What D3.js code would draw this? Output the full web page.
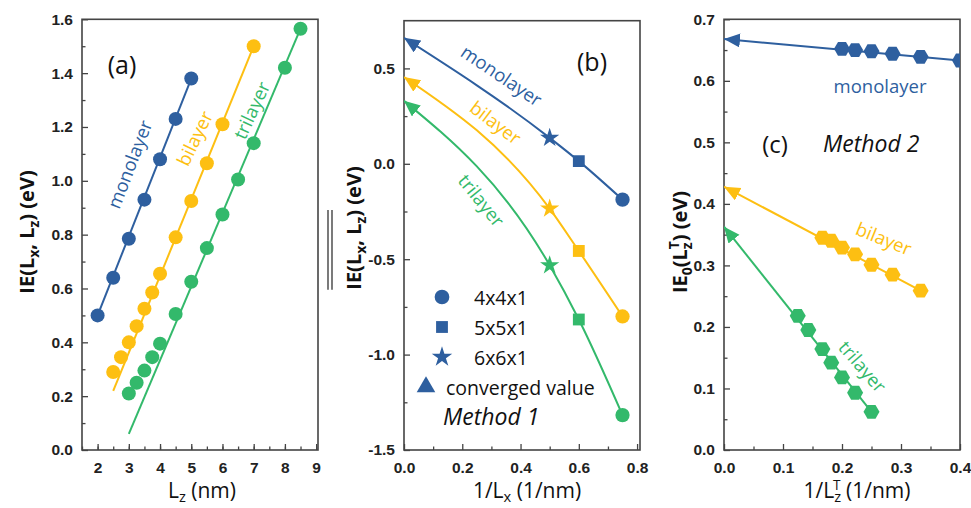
<!DOCTYPE html>
<html>
<head>
<meta charset="utf-8">
<script src="https://cdn.jsdelivr.net/npm/d3@7/dist/d3.min.js"></script>
<style>
  body { margin: 0; background: #fff; }
  svg { font-family: "Open Sans", "DejaVu Sans", sans-serif; }
  .tick text { font-weight: bold; font-size: 15.5px; fill: #222; }
  .tick line { stroke: #444; stroke-width: 1.3; }
</style>
</head>
<body>
<svg id="chart" width="971" height="508"></svg>
<script>
// colours of the three layer series
var BLUE = "#2e5f9f", GOLD = "#fdbf12", GREEN = "#33b96b";

// ---- panel (a): IE(Lx, Lz) vs Lz ----
var monoA_x = [2, 2.5, 3, 3.5, 4, 4.5, 5];
var monoA_y = [0.50, 0.64, 0.785, 0.93, 1.08, 1.23, 1.38];
var biA_x = [2.5, 2.75, 3, 3.25, 3.5, 3.75, 4, 4.5, 5, 5.5, 6, 7];
var biA_y = [0.29, 0.345, 0.40, 0.46, 0.525, 0.585, 0.655, 0.79, 0.925, 1.065, 1.21, 1.50];
var triA_x = [3, 3.25, 3.5, 3.75, 4, 4.5, 5, 5.5, 6, 6.5, 7, 8, 8.5];
var triA_y = [0.21, 0.25, 0.295, 0.345, 0.395, 0.505, 0.625, 0.75, 0.875, 1.005, 1.14, 1.42, 1.565];
// fitted lines (start, end) in data units
var monoA_fit = [[2, 0.50], [5, 1.38]];
var biA_fit = [[2.5, 0.22], [7, 1.50]];
var triA_fit = [[3, 0.06], [8.5, 1.565]];
var aXTicks = [2, 3, 4, 5, 6, 7, 8, 9];
var aYTicks = [0.0, 0.2, 0.4, 0.6, 0.8, 1.0, 1.2, 1.4, 1.6];

// ---- panel (b): method 1, vs 1/Lx ----
var bX = [0, 0.5, 0.6, 0.75];            // converged, 6x6x1, 5x5x1, 4x4x1
var monoB = [0.66, 0.136, 0.014, -0.188];
var biB = [0.455, -0.235, -0.457, -0.80];
var triB = [0.33, -0.532, -0.816, -1.317];
var bXTicks = [0.0, 0.2, 0.4, 0.6, 0.8];
var bYTicks = [-1.5, -1.0, -0.5, 0.0, 0.5];
var legendB = ["4x4x1", "5x5x1", "6x6x1", "converged value"];

// ---- panel (c): method 2, vs 1/Lz^T ----
var monoC_x = [0.2, 0.2222, 0.25, 0.2857, 0.3333, 0.4];
var monoC_y = [0.652, 0.650, 0.648, 0.644, 0.639, 0.633];
var biC_x = [0.1667, 0.1818, 0.2, 0.2222, 0.25, 0.2857, 0.3333];
var biC_y = [0.345, 0.340, 0.329, 0.318, 0.301, 0.285, 0.259];
var triC_x = [0.125, 0.1429, 0.1667, 0.1818, 0.2, 0.2222, 0.25];
var triC_y = [0.218, 0.195, 0.164, 0.142, 0.118, 0.093, 0.062];
var convC = [0.668, 0.428, 0.363];      // mono, bi, tri at 1/Lz^T = 0
var cXTicks = [0.0, 0.1, 0.2, 0.3, 0.4];
var cYTicks = [0.0, 0.1, 0.2, 0.3, 0.4, 0.5, 0.6, 0.7];

var svg = d3.select("#chart");
var defs = svg.append("defs");

function zip(xs, ys){
    return xs.map(function(x, i){ return [x, ys[i]]; });
}
function fmtHyphen(spec){
    var f = d3.format(spec);
    return function(d){ return f(d).replace("\u2212", "-"); };
}

// arrow heads pointing back to the converged value
[["mono", BLUE], ["bi", GOLD], ["tri", GREEN]].forEach(function(m){
    defs.append("marker")
        .attr("id", "arrow-" + m[0])
        .attr("markerUnits", "userSpaceOnUse")
        .attr("markerWidth", 17).attr("markerHeight", 15)
        .attr("refX", 16).attr("refY", 7)
        .attr("orient", "auto-start-reverse")
        .append("path")
        .attr("d", "M0,0 L16,7 L0,14 Z")
        .attr("fill", m[1]);
});

function makePanel(id, box, xDom, yDom, xTicks, yTicks, xMinor, yMinor, fmt){
    var x = d3.scaleLinear().domain(xDom).range([box.l, box.r]);
    var y = d3.scaleLinear().domain(yDom).range([box.b, box.t]);
    var g = svg.append("g").attr("class", "panel-" + id);

    defs.append("clipPath").attr("id", "clip-" + id)
        .append("rect")
        .attr("x", box.l).attr("y", box.t)
        .attr("width", box.r - box.l).attr("height", box.b - box.t);

    var xa = g.append("g").attr("transform", "translate(0," + box.b + ")")
        .call(d3.axisBottom(x).tickValues(xTicks).tickSize(-6).tickPadding(12).tickFormat(fmtHyphen(fmt.x)));
    var xm = g.append("g").attr("transform", "translate(0," + box.b + ")")
        .call(d3.axisBottom(x).tickValues(xMinor).tickSize(-3.5).tickFormat(""));
    var ya = g.append("g").attr("transform", "translate(" + box.l + ",0)")
        .call(d3.axisLeft(y).tickValues(yTicks).tickSize(-6).tickPadding(9).tickFormat(fmtHyphen(fmt.y)));
    var ym = g.append("g").attr("transform", "translate(" + box.l + ",0)")
        .call(d3.axisLeft(y).tickValues(yMinor).tickSize(-3.5).tickFormat(""));
    [xa, xm, ya, ym].forEach(function(a){ a.select(".domain").remove(); });

    g.append("rect")
        .attr("x", box.l).attr("y", box.t)
        .attr("width", box.r - box.l).attr("height", box.b - box.t)
        .attr("fill", "none").attr("stroke", "#444").attr("stroke-width", 1.6);

    var plot = g.append("g").attr("clip-path", "url(#clip-" + id + ")");
    return {x: x, y: y, g: g, plot: plot};
}

function label(g, txt, px, py, opts){
    opts = opts || {};
    return g.append("text")
        .attr("transform", "translate(" + px + "," + py + ") rotate(" + (opts.rot || 0) + ")")
        .attr("text-anchor", opts.anchor || "middle")
        .attr("dominant-baseline", "central")
        .attr("font-size", opts.size || 18)
        .attr("font-style", opts.italic ? "italic" : "normal")
        .attr("fill", opts.color || "#111")
        .text(txt);
}

// ================= panel (a) =================
var A = makePanel("a", {l: 82, r: 318, t: 19.3, b: 450}, [1.5, 9.06], [0, 1.6],
    aXTicks, aYTicks, d3.range(1.5, 9.01, 0.5), d3.range(0.1, 1.6, 0.2), {x: "d", y: ".1f"});

var line = d3.line().x(function(d){ return A.x(d[0]); }).y(function(d){ return A.y(d[1]); });
[[monoA_fit, BLUE], [biA_fit, GOLD], [triA_fit, GREEN]].forEach(function(s){
    A.plot.append("path").datum(s[0]).attr("d", line)
        .attr("fill", "none").attr("stroke", s[1]).attr("stroke-width", 2);
});
[[zip(monoA_x, monoA_y), BLUE], [zip(biA_x, biA_y), GOLD], [zip(triA_x, triA_y), GREEN]].forEach(function(s){
    A.plot.selectAll(null).data(s[0]).enter().append("circle")
        .attr("cx", function(d){ return A.x(d[0]); })
        .attr("cy", function(d){ return A.y(d[1]); })
        .attr("r", 7).attr("fill", s[1]);
});
label(A.g, "(a)", 122, 64, {size: 25});
label(A.g, "monolayer", 129, 164, {rot: -69, color: BLUE, size: 18.5});
label(A.g, "bilayer", 194, 138, {rot: -64, color: GOLD, size: 18.5});
label(A.g, "trilayer", 251, 110, {rot: -65, color: GREEN, size: 18.5});

// ================= panel (b) =================
var B = makePanel("b", {l: 404, r: 640, t: 20.7, b: 450}, [0, 0.81], [-1.5, 0.75],
    bXTicks, bYTicks, d3.range(0.1, 0.81, 0.2), d3.range(-1.25, 0.75, 0.5), {x: ".1f", y: ".1f"});

var curveB = d3.line().curve(d3.curveMonotoneX)
    .x(function(d){ return B.x(d[0]); }).y(function(d){ return B.y(d[1]); });
var seriesB = [["mono", monoB, BLUE], ["bi", biB, GOLD], ["tri", triB, GREEN]];
var symsB = [d3.symbolStar, d3.symbolSquare, d3.symbolCircle];
var sizesB = [115, 140, 160];
seriesB.forEach(function(s){
    var pts = zip(bX, s[1]);
    B.plot.append("path").datum(pts).attr("d", curveB)
        .attr("fill", "none").attr("stroke", s[2]).attr("stroke-width", 2)
        .attr("marker-start", "url(#arrow-" + s[0] + ")");
    pts.slice(1).forEach(function(p, i){
        B.plot.append("path")
            .attr("d", d3.symbol().type(symsB[i]).size(sizesB[i]))
            .attr("transform", "translate(" + B.x(p[0]) + "," + B.y(p[1]) + ")")
            .attr("fill", s[2]);
    });
});
// legend
var legSyms = [d3.symbolCircle, d3.symbolSquare, d3.symbolStar, d3.symbolTriangle];
var legSizes = [170, 140, 130, 150];
legendB.forEach(function(t, i){
    var ly = 297 + i * 30;
    var lx = i < 3 ? 442 : 426;
    B.g.append("path")
        .attr("d", d3.symbol().type(legSyms[i]).size(legSizes[i]))
        .attr("transform", "translate(" + lx + "," + ly + ")")
        .attr("fill", BLUE);
    label(B.g, t, i < 3 ? 474 : 446, ly, {anchor: "start", size: 19.5});
});
label(B.g, "Method 1", 443, 416, {anchor: "start", size: 23, italic: true});
label(B.g, "(b)", 592, 61, {size: 25});
label(B.g, "monolayer", 502, 75, {rot: 34, color: BLUE, size: 18.5});
label(B.g, "bilayer", 496, 122, {rot: 37, color: GOLD, size: 18.5});
label(B.g, "trilayer", 482, 200, {rot: 51, color: GREEN, size: 18.5});

// ================= panel (c) =================
var C = makePanel("c", {l: 724, r: 960, t: 19.3, b: 450}, [0, 0.4], [0, 0.7],
    cXTicks, cYTicks, d3.range(0.05, 0.4, 0.1), d3.range(0.05, 0.7, 0.1), {x: ".1f", y: ".1f"});

var lineC = d3.line().x(function(d){ return C.x(d[0]); }).y(function(d){ return C.y(d[1]); });
function hexagon(r){
    return d3.range(6).map(function(k){
        var a = Math.PI / 3 * k;
        return [r * Math.cos(a), r * Math.sin(a)];
    });
}
var hexPath = "M" + hexagon(8).join("L") + "Z";
[["mono", monoC_x, monoC_y, convC[0], BLUE],
 ["bi", biC_x, biC_y, convC[1], GOLD],
 ["tri", triC_x, triC_y, convC[2], GREEN]].forEach(function(s){
    var pts = zip(s[1], s[2]);
    var ends = [[0, s[3]], pts[pts.length - 1]];
    C.plot.append("path").datum(ends).attr("d", lineC)
        .attr("fill", "none").attr("stroke", s[4]).attr("stroke-width", 2)
        .attr("marker-start", "url(#arrow-" + s[0] + ")");
    C.plot.selectAll(null).data(pts).enter().append("path")
        .attr("d", hexPath)
        .attr("transform", function(d){ return "translate(" + C.x(d[0]) + "," + C.y(d[1]) + ")"; })
        .attr("fill", s[4]);
});
label(C.g, "monolayer", 880, 85, {color: BLUE, size: 18.5});
label(C.g, "(c)", 775, 143, {size: 24});
label(C.g, "Method 2", 823, 143, {anchor: "start", size: 23, italic: true});
label(C.g, "bilayer", 884, 238, {rot: 22, color: GOLD, size: 18.5});
label(C.g, "trilayer", 863, 366, {rot: 49, color: GREEN, size: 18.5});

// ================= axis titles =================
function sub(t, s, d){ t.append("tspan").attr("font-size", "70%").attr("dy", d).text(s); }

// (a) y
var ya = svg.append("text").attr("transform", "translate(34,232) rotate(-90)")
    .attr("text-anchor", "middle").attr("font-size", 20).attr("font-weight", "bold").attr("fill", "#111");
ya.append("tspan").text("IE(L");
sub(ya, "x", 5);
ya.append("tspan").attr("dy", -5).text(", L");
sub(ya, "z", 5);
ya.append("tspan").attr("dy", -5).text(") (eV)");

// (a) x
var xa = svg.append("text").attr("x", 202).attr("y", 498)
    .attr("text-anchor", "middle").attr("font-size", 21).attr("fill", "#111");
xa.append("tspan").text("L");
sub(xa, "z", 4);
xa.append("tspan").attr("dy", -4).text(" (nm)");

// (b) y with double overbar over IE(Lx, Lz)
var yb = svg.append("text").attr("transform", "translate(361,228) rotate(-90)")
    .attr("text-anchor", "middle").attr("font-size", 20).attr("font-weight", "bold").attr("fill", "#111");
yb.append("tspan").text("IE(L");
sub(yb, "x", 5);
yb.append("tspan").attr("dy", -5).text(", L");
sub(yb, "z", 5);
yb.append("tspan").attr("dy", -5).text(")");
var ybLen1 = yb.node().getComputedTextLength();
yb.append("tspan").text(" (eV)");
var ybLen = yb.node().getComputedTextLength();
var ybStart = 228 + ybLen / 2;            // screen y of text start (rotated)
[328, 332].forEach(function(lx){
    svg.append("line")
        .attr("x1", lx).attr("x2", lx)
        .attr("y1", ybStart).attr("y2", ybStart - ybLen1)
        .attr("stroke", "#333").attr("stroke-width", 1.3);
});

// (b) x
var xb = svg.append("text").attr("x", 527).attr("y", 498)
    .attr("text-anchor", "middle").attr("font-size", 21).attr("fill", "#111");
xb.append("tspan").text("1/L");
sub(xb, "x", 4);
xb.append("tspan").attr("dy", -4).text(" (1/nm)");

// (c) y
var yc = svg.append("text").attr("transform", "translate(687,242) rotate(-90)")
    .attr("text-anchor", "middle").attr("font-size", 20).attr("font-weight", "bold").attr("fill", "#111");
yc.append("tspan").text("IE");
sub(yc, "0", 5);
yc.append("tspan").attr("dy", -5).text("(L");
sub(yc, "z", 5);
yc.append("tspan").attr("font-size", "70%").attr("dy", -13).attr("dx", -7).text("T");
yc.append("tspan").attr("dy", 8).text(") (eV)");

// (c) x
var xc = svg.append("text").attr("x", 857).attr("y", 498)
    .attr("text-anchor", "middle").attr("font-size", 21).attr("fill", "#111");
xc.append("tspan").text("1/L");
sub(xc, "z", 4);
xc.append("tspan").attr("font-size", "65%").attr("dy", -12).attr("dx", -8).text("T");
xc.append("tspan").attr("dy", 8).text(" (1/nm)");
</script>
</body>
</html>
